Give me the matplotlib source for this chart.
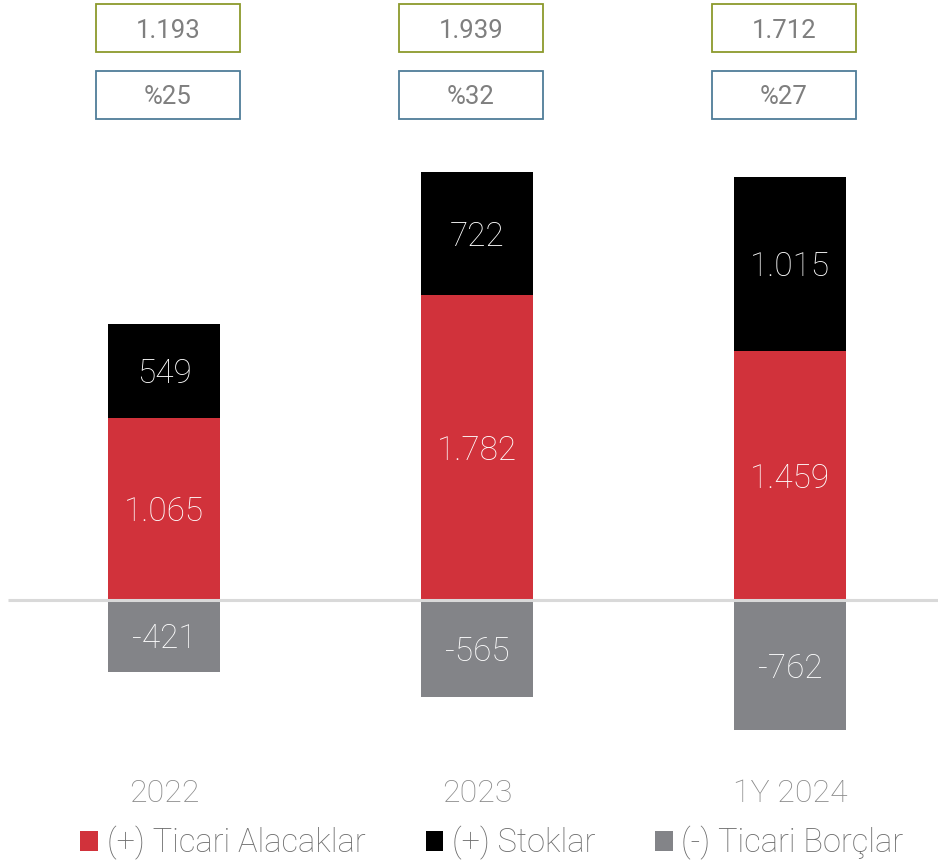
import matplotlib
matplotlib.use("Agg")
import matplotlib.pyplot as plt
from matplotlib.patches import Rectangle

categories = ["2022", "2023", "1Y 2024"]
alacaklar = [1065, 1782, 1459]
stoklar = [549, 722, 1015]
borclar = [-421, -565, -762]
totals = ["1.193", "1.939", "1.712"]
percents = ["%25", "%32", "%27"]
series_names = ["(+) Ticari Alacaklar", "(+) Stoklar", "(-) Ticari Borçlar"]

def fmt(v):
    s = f"{abs(v):,}".replace(",", ".")
    return ("-" if v < 0 else "") + s

plt.rcParams['font.family'] = ['Roboto', 'DejaVu Sans']
LW = "light"

W, H = 938, 865
fig = plt.figure(figsize=(W / 100, H / 100), dpi=100)
ax = fig.add_axes([0, 0, 1, 1])

spacing = 313.0
x0 = 164.0
ppu = 0.171
zero_y = 600.0
ax.set_xlim(-x0 / spacing, (W - x0) / spacing)
ax.set_ylim(-(H - zero_y) / ppu, zero_y / ppu)
ax.axis("off")

red = "#d1323b"
black = "#000000"
gray = "#838488"
width = 112 / spacing
xs = list(range(len(categories)))

b1 = ax.bar(xs, alacaklar, width, color=red, label=series_names[0], zorder=2)
b2 = ax.bar(xs, stoklar, width, bottom=alacaklar, color=black, label=series_names[1], zorder=2)
b3 = ax.bar(xs, borclar, width, color=gray, label=series_names[2], zorder=2)

xl = ax.get_xlim()
ax.plot([8 / W * (xl[1] - xl[0]) + xl[0], xl[1]], [0, 0],
        color="#d9d9d9", lw=2.2, zorder=3, solid_capstyle="butt")

def val(x, y, s):
    ax.text(x, y, s, ha="center", va="center_baseline", color="white",
            fontsize=24, fontweight=LW, zorder=4)

for i in xs:
    val(i, alacaklar[i] / 2, fmt(alacaklar[i]))
    val(i, alacaklar[i] + stoklar[i] / 2, fmt(stoklar[i]))
    val(i, borclar[i] / 2, fmt(borclar[i]))
    ax.text(i, -(791 - zero_y) / ppu, categories[i], ha="center", va="center_baseline",
            color="#8a8a8a", fontsize=23, fontweight=LW)

box_centers = [168, 471, 784]
bw, bh = 144, 48
for i, cx in enumerate(box_centers):
    for (cy, txt, ec) in [(28, totals[i], "#8c9a2c"), (95, percents[i], "#4f7d99")]:
        r = Rectangle(((cx - bw / 2) / W, 1 - (cy + bh / 2) / H), bw / W, bh / H,
                      transform=fig.transFigure, facecolor="white", edgecolor=ec, lw=1.3)
        fig.patches.append(r)
        fig.text(cx / W, 1 - cy / H, txt, ha="center", va="center_baseline", color="#7f7f7f",
                 fontsize=18.5)

leg = fig.legend(handles=[b1, b2, b3], loc="center", bbox_to_anchor=(492 / W, 1 - 843 / H),
                 ncol=3, frameon=False, fontsize=23.5, handlelength=0.55, handleheight=0.55,
                 handletextpad=0.25, columnspacing=1.85, borderaxespad=0, borderpad=0)
for t in leg.get_texts():
    t.set_color("#6f6f6f")
    t.set_fontweight(LW)

fig.savefig("out.png", dpi=100)
